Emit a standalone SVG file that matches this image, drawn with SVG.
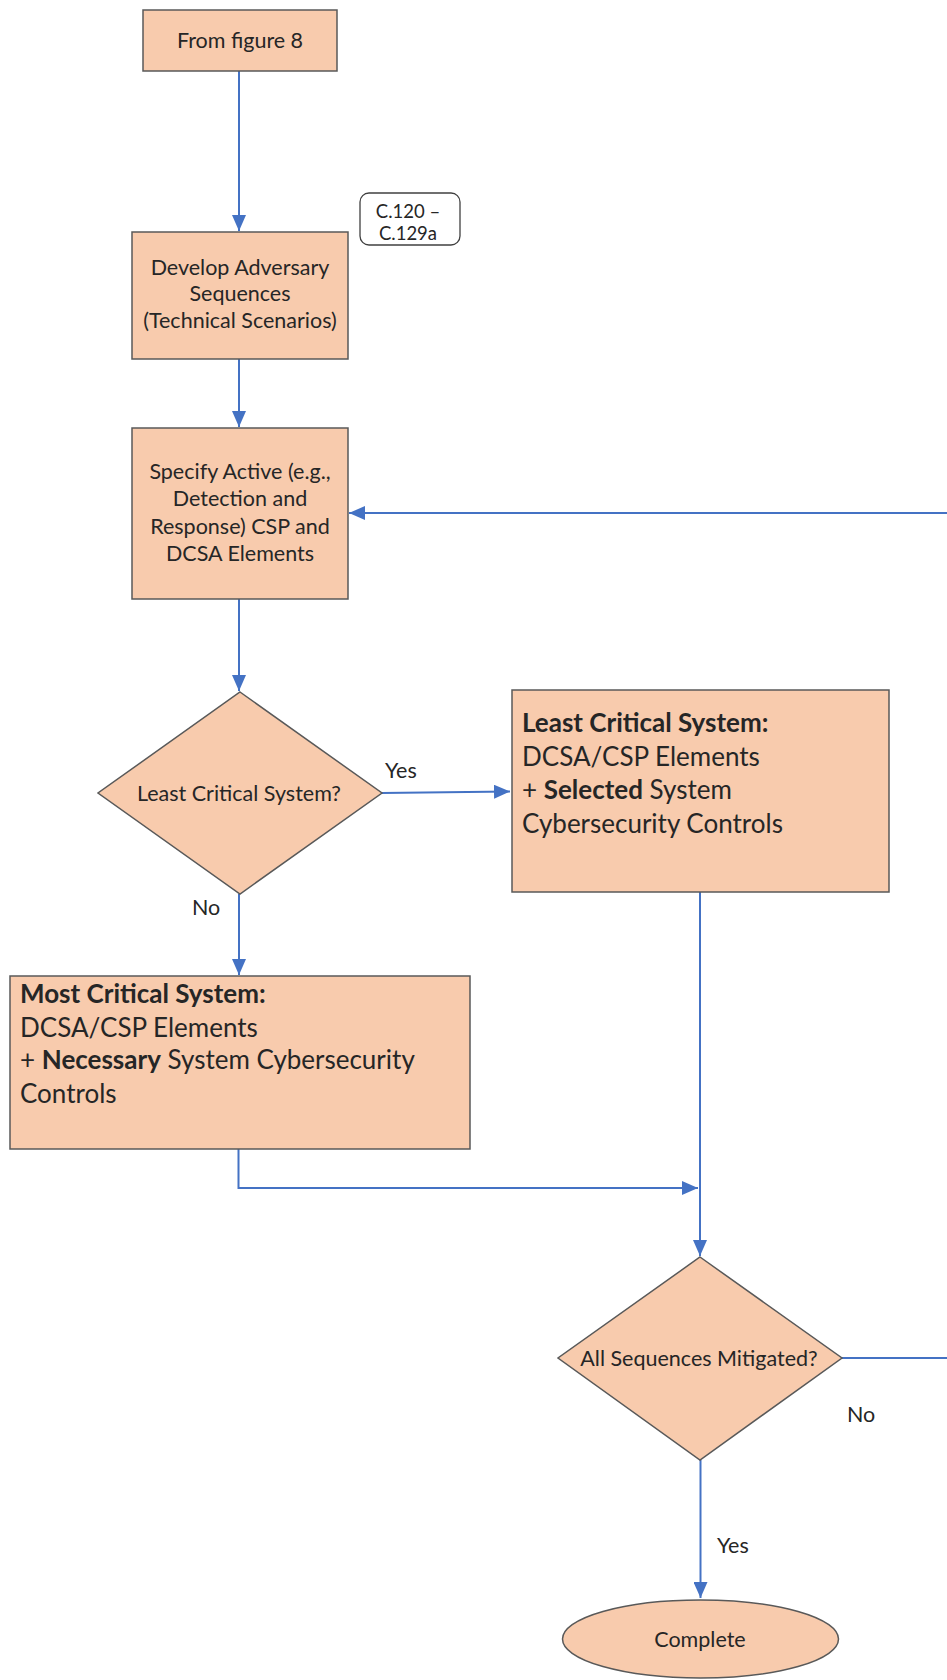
<svg xmlns="http://www.w3.org/2000/svg" width="947" height="1680" viewBox="0 0 947 1680">
<style>
.n{fill:#F8CBAD;stroke:#595959;stroke-width:1.5}
.t{font-family:Lato,"Liberation Sans",sans-serif;font-size:21.5px;fill:#262626}
.m{text-anchor:middle}
.L{font-family:Lato,"Liberation Sans",sans-serif;font-size:26px;fill:#262626}
.b{font-weight:bold}
.c{fill:none;stroke:#4472C4;stroke-width:2}
.s{font-family:Lato,"Liberation Sans",sans-serif;font-size:18.5px;fill:#262626}
</style>
<defs>
<marker id="arr" viewBox="0 0 16 14" refX="16" refY="7" markerWidth="16" markerHeight="14" markerUnits="userSpaceOnUse" orient="auto">
<path d="M0,0 L16,7 L0,14 z" fill="#4472C4"/>
</marker>
</defs>
<rect width="947" height="1680" fill="#fff"/>
<g id="connectors">
<path class="c" d="M239,71 V231" marker-end="url(#arr)"/>
<path class="c" d="M239,359 V427" marker-end="url(#arr)"/>
<path class="c" d="M947,513 H349" marker-end="url(#arr)"/>
<path class="c" d="M239,599 V691" marker-end="url(#arr)"/>
<path class="c" d="M382,793 L510,791.5" marker-end="url(#arr)"/>
<path class="c" d="M239,894 V975" marker-end="url(#arr)"/>
<path class="c" d="M238.5,1149 V1188 H698" marker-end="url(#arr)"/>
<path class="c" d="M700,892 V1256" marker-end="url(#arr)"/>
<path class="c" d="M842,1358 H947"/>
<path class="c" d="M700.5,1460 V1598" marker-end="url(#arr)"/>
<text class="t" x="385" y="778">Yes</text>
<text class="t" x="192" y="915">No</text>
<text class="t" x="847" y="1422">No</text>
<text class="t" x="717" y="1553">Yes</text>
</g>
<g id="from">
<rect class="n" x="143" y="10" width="194" height="61"/>
<text class="t m" x="240" y="48">From figure 8</text>
</g>
<g id="ref">
<rect x="360" y="193" width="100" height="52" rx="9" fill="#fff" stroke="#404040" stroke-width="1.3"/>
<text class="s m" x="408" y="218">C.120 –</text>
<text class="s m" x="408" y="240">C.129a</text>
</g>
<g id="develop">
<rect class="n" x="132" y="232" width="216" height="127"/>
<text class="t m" x="240" y="275">Develop Adversary</text>
<text class="t m" x="240" y="301">Sequences</text>
<text class="t m" x="240" y="328">(Technical Scenarios)</text>
</g>
<g id="specify">
<rect class="n" x="132" y="428" width="216" height="171"/>
<text class="t m" x="240" y="479">Specify Active (e.g.,</text>
<text class="t m" x="240" y="506">Detection and</text>
<text class="t m" x="240" y="534">Response) CSP and</text>
<text class="t m" x="240" y="561">DCSA Elements</text>
</g>
<g id="least-q">
<path class="n" d="M240,692 L382,793 L240,894 L98,793 Z"/>
<text class="t m" x="239" y="801">Least Critical System?</text>
</g>
<g id="least">
<rect class="n" x="512" y="690" width="377" height="202"/>
<text class="L" x="522" y="732"><tspan class="b">Least Critical System:</tspan></text>
<text class="L" x="522" y="766">DCSA/CSP Elements</text>
<text class="L" x="522" y="799">+ <tspan class="b">Selected</tspan> System</text>
<text class="L" x="522" y="833">Cybersecurity Controls</text>
</g>
<g id="most">
<rect class="n" x="10" y="976" width="460" height="173"/>
<text class="L" x="20" y="1003"><tspan class="b">Most Critical System:</tspan></text>
<text class="L" x="20" y="1037">DCSA/CSP Elements</text>
<text class="L" x="20" y="1069">+ <tspan class="b">Necessary</tspan> System Cybersecurity</text>
<text class="L" x="20" y="1103">Controls</text>
</g>
<g id="all-q">
<path class="n" d="M700,1257 L842,1358 L700,1460 L558,1358 Z"/>
<text class="t m" x="699" y="1366">All Sequences Mitigated?</text>
</g>
<g id="complete">
<ellipse class="n" cx="700.5" cy="1639" rx="138" ry="39"/>
<text class="t m" x="700" y="1647">Complete</text>
</g>
</svg>
